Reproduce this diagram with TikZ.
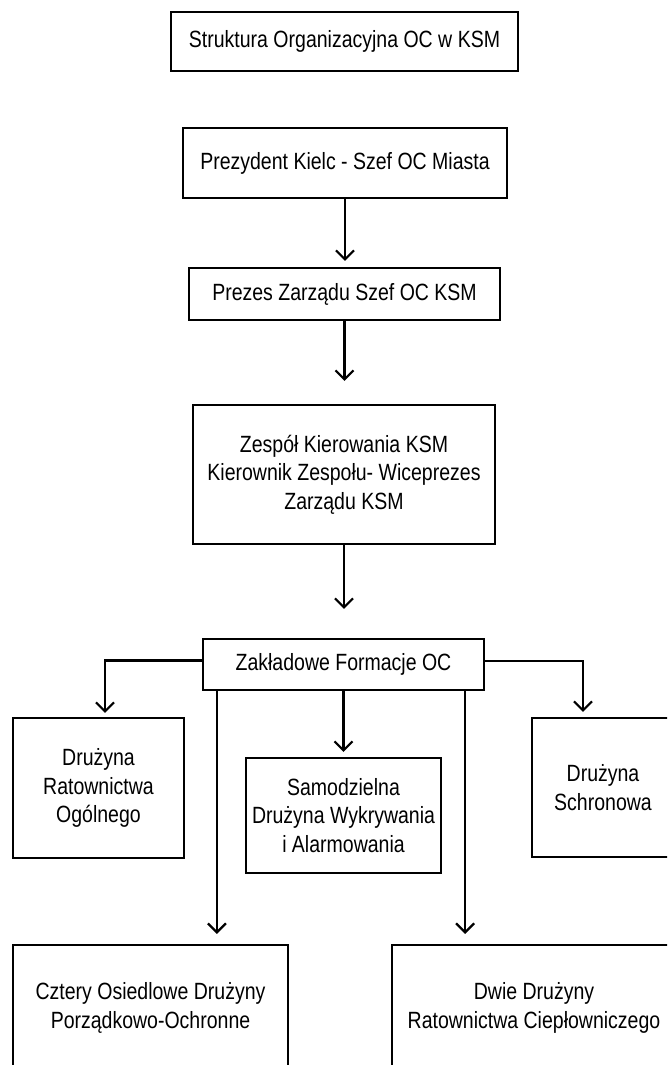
\documentclass[tikz,border=0pt]{standalone}
\usepackage{fontspec}
\setmainfont{Liberation Sans}[FakeStretch=0.83]
\usetikzlibrary{arrows.meta}
\tikzset{ocbox/.style={draw, line width=2.2pt, align=center, inner sep=0pt, font=\fontsize{23.5}{28.5}\selectfont},
ocarrow/.style={line width=2.2pt, -{Straight Barb[length=9pt,width=18pt]}}}

\begin{document}
\begin{tikzpicture}[x=1pt, y=-1pt]
	\useasboundingbox (0,0) rectangle (667,1065);
	\clip (0,0) rectangle (667,1065);

	\node[ocbox, minimum width=347pt, minimum height=59pt] (title) at (344.5,41.5) {Struktura Organizacyjna OC w KSM};
	\node[ocbox, minimum width=324pt, minimum height=70pt] (prez) at (345,163) {Prezydent Kielc - Szef OC Miasta};
	\node[ocbox, minimum width=311pt, minimum height=52pt] (zarzad) at (344.5,294) {Prezes Zarządu Szef OC KSM};
	\node[ocbox, minimum width=302pt, minimum height=139pt] (zespol) at (344,474.5) {Zespół Kierowania KSM\\Kierownik Zespołu- Wiceprezes\\Zarządu KSM};
	\node[ocbox, minimum width=281pt, minimum height=51pt] (formacje) at (343.5,664.5) {Zakładowe Formacje OC};

	\node[ocbox, minimum width=171pt, minimum height=140pt] (ogolny) at (98.5,788) {Drużyna\\Ratownictwa\\Ogólnego};
	\node[ocbox, minimum width=195pt, minimum height=115pt] (wykryw) at (343.5,815.5) {Samodzielna\\Drużyna Wykrywania\\i Alarmowania};
	\node[ocbox, minimum width=142pt, minimum height=139pt] (schron) at (603,787.5) {Drużyna\\Schronowa};
	\node[ocbox, minimum width=275pt, minimum height=126pt] (porzadek) at (150.5,1008) {Cztery Osiedlowe Drużyny\\Porządkowo-Ochronne};
	\node[ocbox, minimum width=284pt, minimum height=126pt] (cieplo) at (534,1008) {Dwie Drużyny\\Ratownictwa Ciepłowniczego};

	% main line
	\draw[ocarrow, shorten >=6pt] (prez.south) -- (prez.south |- zarzad.north);
	\draw[ocarrow, shorten >=23pt] (zarzad.south) -- (zarzad.south |- zespol.north);
	\draw[ocarrow, shorten >=29pt] (zespol.south) -- (zespol.south |- formacje.north);

	% formations
	\draw[ocarrow, shorten >=4pt] ([yshift=4pt]formacje.west) -| ([xshift=6.5pt]ogolny.north);
	\draw[ocarrow, shorten >=5pt] (formacje.south) -- (formacje.south |- wykryw.north);
	\draw[ocarrow, shorten >=5pt] ([yshift=3.5pt]formacje.east) -| ([xshift=-20pt]schron.north);
	\draw[ocarrow, shorten >=10pt] ([xshift=15pt]formacje.south west) -- ([xshift=15pt]formacje.south west |- porzadek.north);
	\draw[ocarrow, shorten >=10pt] ([xshift=-20pt]formacje.south east) -- ([xshift=-20pt]formacje.south east |- cieplo.north);
\end{tikzpicture}
\end{document}
